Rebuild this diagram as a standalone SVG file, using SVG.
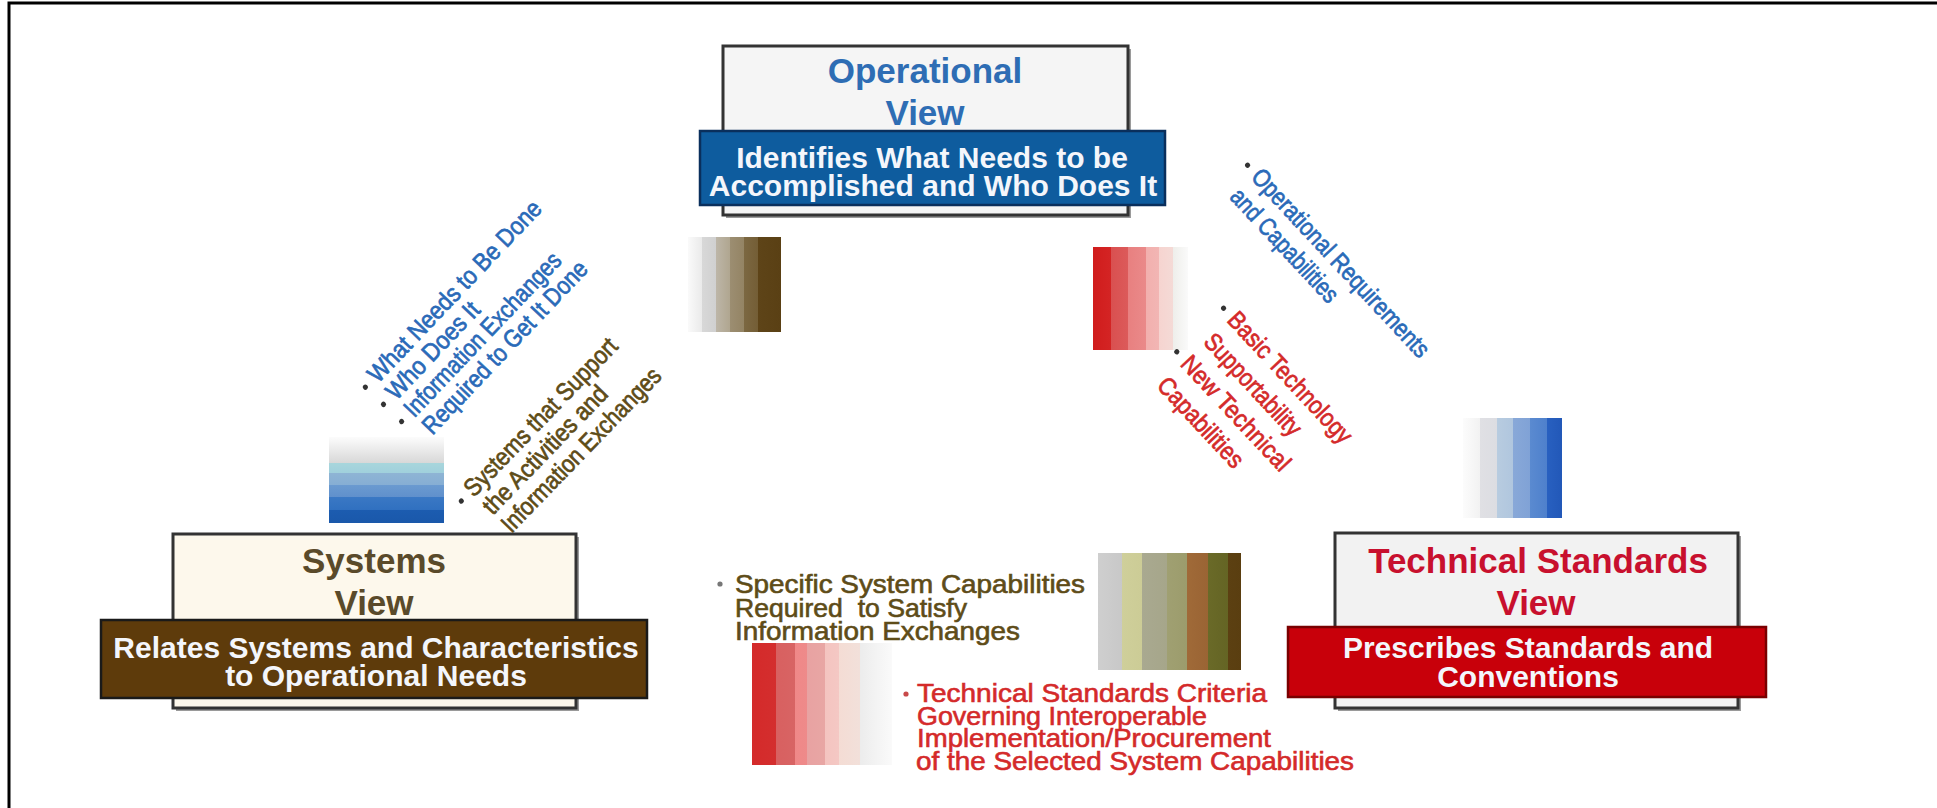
<svg xmlns="http://www.w3.org/2000/svg" width="1937" height="808" viewBox="0 0 1937 808">
<style>
  .frame { stroke: #000; stroke-width: 3; fill: none; }
  .box { stroke: #333; stroke-width: 3; }
  .shadow { fill: #9a9a9a; }
  .title { font-family: "Liberation Sans", Arial, sans-serif; font-weight: bold; font-size: 35px; text-anchor: middle; }
  .banner-text { font-family: "Liberation Sans", Arial, sans-serif; font-weight: bold; font-size: 30px; text-anchor: middle; fill: #f4f6fb; }
  .rot { font-family: "Liberation Sans", Arial, sans-serif; font-size: 25px; stroke-width: 0.7; }
  .body { font-family: "Liberation Sans", Arial, sans-serif; font-size: 25px; stroke-width: 0.6; }
  .blue { fill: #2a6ab8; stroke: #2a6ab8; }
  .olive { fill: #5e4c18; stroke: #5e4c18; }
  .red { fill: #d42a2a; stroke: #d42a2a; }
  .bul { fill: #333; }
</style>
<defs>
  <linearGradient id="gBrown" x1="0" y1="0" x2="1" y2="0">
    <stop offset="0" stop-color="#fafafa"/><stop offset="0.15" stop-color="#eaeaea"/>
    <stop offset="0.15" stop-color="#d8d8d8"/><stop offset="0.3" stop-color="#d0d0d0"/>
    <stop offset="0.3" stop-color="#bdb6a8"/><stop offset="0.45" stop-color="#b0a690"/>
    <stop offset="0.45" stop-color="#9c8e72"/><stop offset="0.6" stop-color="#948464"/>
    <stop offset="0.6" stop-color="#7c6842"/><stop offset="0.75" stop-color="#745e36"/>
    <stop offset="0.75" stop-color="#5e4418"/><stop offset="1" stop-color="#5a4014"/>
  </linearGradient>
  <linearGradient id="gRed1" x1="0" y1="0" x2="1" y2="0">
    <stop offset="0" stop-color="#d01c1c"/><stop offset="0.19" stop-color="#d42424"/>
    <stop offset="0.19" stop-color="#d95050"/><stop offset="0.37" stop-color="#dc5a5a"/>
    <stop offset="0.37" stop-color="#e88080"/><stop offset="0.56" stop-color="#ea8a8a"/>
    <stop offset="0.56" stop-color="#f2b0ae"/><stop offset="0.7" stop-color="#f2b6b4"/>
    <stop offset="0.7" stop-color="#f6d4d0"/><stop offset="0.84" stop-color="#f4dad6"/>
    <stop offset="0.84" stop-color="#eeeeea"/><stop offset="1" stop-color="#fafafa"/>
  </linearGradient>
  <linearGradient id="gBlueV" x1="0" y1="0" x2="0" y2="1">
    <stop offset="0" stop-color="#fcfcfc"/><stop offset="0.3" stop-color="#d8d8d8"/>
    <stop offset="0.3" stop-color="#a8d6dc"/><stop offset="0.42" stop-color="#a0d0dc"/>
    <stop offset="0.42" stop-color="#8eb4d4"/><stop offset="0.56" stop-color="#86aed4"/>
    <stop offset="0.56" stop-color="#6a9ad0"/><stop offset="0.7" stop-color="#6090cc"/>
    <stop offset="0.7" stop-color="#3a78c4"/><stop offset="0.85" stop-color="#3070c0"/>
    <stop offset="0.85" stop-color="#1c5cb0"/><stop offset="1" stop-color="#1a58aa"/>
  </linearGradient>
  <linearGradient id="gBlueH" x1="0" y1="0" x2="1" y2="0">
    <stop offset="0" stop-color="#fcfcfc"/><stop offset="0.17" stop-color="#f2f2f2"/>
    <stop offset="0.17" stop-color="#e0e0e4"/><stop offset="0.34" stop-color="#dcdde2"/>
    <stop offset="0.34" stop-color="#b8cce0"/><stop offset="0.51" stop-color="#b0c6de"/>
    <stop offset="0.51" stop-color="#88a8d8"/><stop offset="0.68" stop-color="#80a2d6"/>
    <stop offset="0.68" stop-color="#5a8ad0"/><stop offset="0.85" stop-color="#4e80cc"/>
    <stop offset="0.85" stop-color="#2860c0"/><stop offset="1" stop-color="#2258b8"/>
  </linearGradient>
  <linearGradient id="gOlive" x1="0" y1="0" x2="1" y2="0">
    <stop offset="0" stop-color="#cfcfcf"/><stop offset="0.17" stop-color="#c8c8c8"/>
    <stop offset="0.17" stop-color="#cfcf9a"/><stop offset="0.31" stop-color="#cccc96"/>
    <stop offset="0.31" stop-color="#a9a990"/><stop offset="0.48" stop-color="#a6a68a"/>
    <stop offset="0.48" stop-color="#a0a072"/><stop offset="0.62" stop-color="#9c9c6c"/>
    <stop offset="0.62" stop-color="#a06a38"/><stop offset="0.77" stop-color="#9a6434"/>
    <stop offset="0.77" stop-color="#6a6a28"/><stop offset="0.91" stop-color="#646424"/>
    <stop offset="0.91" stop-color="#5c4012"/><stop offset="1" stop-color="#5a3e10"/>
  </linearGradient>
  <linearGradient id="gRed2" x1="0" y1="0" x2="1" y2="0">
    <stop offset="0" stop-color="#d42a2a"/><stop offset="0.17" stop-color="#d42e2e"/>
    <stop offset="0.17" stop-color="#d86060"/><stop offset="0.31" stop-color="#d86464"/>
    <stop offset="0.31" stop-color="#f08888"/><stop offset="0.39" stop-color="#ee8a8a"/>
    <stop offset="0.39" stop-color="#e8a2a2"/><stop offset="0.52" stop-color="#e8a6a4"/>
    <stop offset="0.52" stop-color="#f4c4c0"/><stop offset="0.62" stop-color="#f4c8c4"/>
    <stop offset="0.62" stop-color="#f4dcd4"/><stop offset="0.77" stop-color="#f2e0da"/>
    <stop offset="0.77" stop-color="#ececec"/><stop offset="1" stop-color="#fafafa"/>
  </linearGradient>
</defs>

<rect x="0" y="0" width="1937" height="808" fill="#ffffff"/>
<path class="frame" d="M9,808 V3 H1937"/>

<g id="connectors">
  <rect id="flow-ov-sv" x="688" y="237" width="93" height="95" fill="url(#gBrown)"/>
  <rect id="flow-ov-tv" x="1093" y="247" width="95" height="103" fill="url(#gRed1)"/>
  <rect id="flow-sv-in" x="329" y="437" width="115" height="86" fill="url(#gBlueV)"/>
  <rect id="flow-tv-in" x="1463" y="418" width="99" height="100" fill="url(#gBlueH)"/>
  <rect id="flow-sv-tv" x="1098" y="553" width="143" height="117" fill="url(#gOlive)"/>
  <rect id="flow-tv-sv" x="752" y="643" width="140" height="122" fill="url(#gRed2)"/>
</g>

<g id="node-operational">
  <rect class="shadow" x="726" y="49" width="405" height="169"/>
  <rect class="box" x="723" y="46" width="405" height="169" fill="#f5f5f5"/>
  <text class="title" x="925" y="83" fill="#2e6db4">Operational</text>
  <text class="title" x="925" y="125" fill="#2e6db4">View</text>
  <rect x="700" y="131" width="465" height="74" fill="#0e5c9e" stroke="#0a2f5c" stroke-width="2.5"/>
  <text class="banner-text" x="932" y="168">Identifies What Needs to be</text>
  <text class="banner-text" x="933" y="196">Accomplished and Who Does It</text>
</g>

<g id="node-systems">
  <rect class="shadow" x="176" y="537" width="403" height="174"/>
  <rect class="box" x="173" y="534" width="403" height="174" fill="#fdf8ec"/>
  <text class="title" x="374" y="573" fill="#5a4a2a">Systems</text>
  <text class="title" x="374" y="615" fill="#5a4a2a">View</text>
  <rect x="101" y="620" width="546" height="78" fill="#5e3b0b" stroke="#1a1a1a" stroke-width="2.5"/>
  <text class="banner-text" x="376" y="658">Relates Systems and Characteristics</text>
  <text class="banner-text" x="376" y="686">to Operational Needs</text>
</g>

<g id="node-technical">
  <rect class="shadow" x="1338" y="536" width="403" height="175"/>
  <rect class="box" x="1335" y="533" width="403" height="175" fill="#f2f2f2"/>
  <text class="title" x="1538" y="573" fill="#c8102e">Technical Standards</text>
  <text class="title" x="1536" y="615" fill="#c8102e">View</text>
  <rect x="1288" y="627" width="478" height="70" fill="#c8000a" stroke="#7a0000" stroke-width="2.5"/>
  <text class="banner-text" x="1528" y="658">Prescribes Standards and</text>
  <text class="banner-text" x="1528" y="687">Conventions</text>
</g>

<g id="label-operational-systems" transform="translate(378,384) rotate(-46.5)">
  <circle class="bul" cx="-11" cy="-7" r="2.6"/>
  <circle class="bul" cx="-11" cy="18" r="2.6"/>
  <circle class="bul" cx="-11" cy="43" r="2.6"/>
  <text class="rot blue" x="0" y="0" textLength="240" lengthAdjust="spacingAndGlyphs">What Needs to Be Done</text>
  <text class="rot blue" x="0" y="25" textLength="124" lengthAdjust="spacingAndGlyphs">Who Does It</text>
  <text class="rot blue" x="0" y="50" textLength="216" lengthAdjust="spacingAndGlyphs">Information Exchanges</text>
  <text class="rot blue" x="0" y="75" textLength="228" lengthAdjust="spacingAndGlyphs">Required to Get It Done</text>
</g>

<g id="label-systems-support" transform="translate(474,498) rotate(-46)">
  <circle class="bul" cx="-11" cy="-7" r="2.6"/>
  <text class="rot olive" x="0" y="0" textLength="209" lengthAdjust="spacingAndGlyphs">Systems that Support</text>
  <text class="rot olive" x="0" y="26" textLength="168" lengthAdjust="spacingAndGlyphs">the Activities and</text>
  <text class="rot olive" x="0" y="52" textLength="218" lengthAdjust="spacingAndGlyphs">Information Exchanges</text>
</g>

<g id="label-operational-technical" transform="translate(1250,178) rotate(47)">
  <circle class="bul" cx="-11" cy="-7" r="2.6"/>
  <text class="rot blue" x="0" y="0" textLength="248" lengthAdjust="spacingAndGlyphs">Operational Requirements</text>
  <text class="rot blue" x="0" y="29" textLength="146" lengthAdjust="spacingAndGlyphs">and Capabilities</text>
</g>

<g id="label-technical-operational" transform="translate(1226,321) rotate(47)">
  <circle class="bul" cx="-11" cy="-7" r="2.6"/>
  <circle class="bul" cx="-11" cy="57" r="2.6"/>
  <text class="rot red" x="0" y="0" textLength="170" lengthAdjust="spacingAndGlyphs">Basic Technology</text>
  <text class="rot red" x="0" y="32" textLength="130" lengthAdjust="spacingAndGlyphs">Supportability</text>
  <text class="rot red" x="0" y="64" textLength="148" lengthAdjust="spacingAndGlyphs">New Technical</text>
  <text class="rot red" x="0" y="96" textLength="114" lengthAdjust="spacingAndGlyphs">Capabilities</text>
</g>

<g id="label-systems-technical">
  <circle cx="720" cy="584" r="2.6" fill="#777"/>
  <text class="body olive" x="735" y="593" textLength="350" lengthAdjust="spacingAndGlyphs">Specific System Capabilities</text>
  <text class="body olive" x="735" y="617" textLength="232" lengthAdjust="spacingAndGlyphs" xml:space="preserve">Required  to Satisfy</text>
  <text class="body olive" x="735" y="640" textLength="285" lengthAdjust="spacingAndGlyphs">Information Exchanges</text>
</g>

<g id="label-technical-systems">
  <circle cx="906" cy="694" r="2.6" fill="#c84a4a"/>
  <text class="body red" x="917" y="702" textLength="350" lengthAdjust="spacingAndGlyphs">Technical Standards Criteria</text>
  <text class="body red" x="917" y="725" textLength="290" lengthAdjust="spacingAndGlyphs">Governing Interoperable</text>
  <text class="body red" x="917" y="747" textLength="354" lengthAdjust="spacingAndGlyphs">Implementation/Procurement</text>
  <text class="body red" x="916" y="770" textLength="438" lengthAdjust="spacingAndGlyphs">of the Selected System Capabilities</text>
</g>
</svg>
